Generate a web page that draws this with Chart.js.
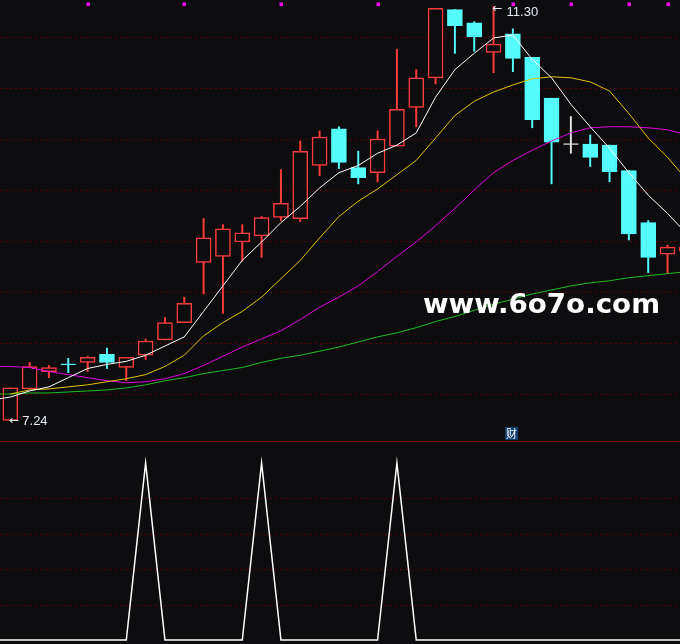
<!DOCTYPE html>
<html>
<head>
<meta charset="utf-8">
<script src="https://cdn.jsdelivr.net/npm/chart.js@4.4.1/dist/chart.umd.min.js"></script>
<style>
  html, body { margin: 0; padding: 0; background: #0d0d10; }
  #wrap { position: relative; width: 680px; height: 644px; overflow: hidden; background: #0d0d10; }
  #top { position: absolute; left: 0; top: 0; }
  #sep { position: absolute; left: 0; top: 441px; width: 680px; height: 1px; background: #7a0a0a; }
  #bottom { position: absolute; left: 0; top: 442px; }
</style>
</head>
<body>
<div id="wrap">
  <canvas id="top" width="680" height="441"></canvas>
  <div id="sep"></div>
  <canvas id="bottom" width="680" height="202"></canvas>
</div>
<script>
// daily candles, day 0 = leftmost (day 35 is cut off at the right edge)
const opens  = [7.24, 7.55, 7.72, 7.79, 7.81, 7.89, 7.76, 7.88, 8.03, 8.20, 8.79, 8.85, 8.99, 9.05, 9.23, 9.22, 9.74, 10.10, 9.72, 9.67, 9.93, 10.31, 10.60, 11.27, 11.14, 10.85, 11.03, 10.80, 10.40, 9.95, 9.95, 9.94, 9.69, 9.18, 8.87, 8.90];
const highs  = [7.56, 7.81, 7.78, 7.85, 7.87, 7.95, 7.86, 8.04, 8.25, 8.45, 9.22, 9.16, 9.16, 9.24, 9.70, 9.98, 10.08, 10.12, 9.88, 10.08, 10.88, 10.68, 11.28, 11.27, 11.15, 11.30, 11.08, 10.80, 10.40, 10.22, 10.04, 9.94, 9.69, 9.20, 8.96, 8.96];
const lows   = [7.24, 7.55, 7.66, 7.71, 7.72, 7.75, 7.63, 7.84, 8.03, 8.20, 8.48, 8.29, 8.80, 8.84, 9.20, 9.19, 9.64, 9.71, 9.56, 9.58, 9.93, 10.12, 10.54, 10.84, 10.86, 10.65, 10.66, 10.11, 9.56, 9.86, 9.73, 9.58, 9.01, 8.69, 8.68, 8.85];
const closes = [7.56, 7.77, 7.76, 7.79, 7.86, 7.81, 7.86, 8.02, 8.20, 8.39, 9.03, 9.12, 9.08, 9.23, 9.37, 9.88, 10.02, 9.77, 9.62, 10.00, 10.29, 10.60, 11.28, 11.11, 11.00, 10.93, 10.79, 10.19, 9.97, 9.95, 9.82, 9.68, 9.07, 8.84, 8.94, 8.94];

// moving averages, read from day -1 (just left of the frame) to day 35
const ma5  = [7.44, 7.47, 7.53, 7.57, 7.66, 7.75, 7.79, 7.82, 7.88, 7.97, 8.06, 8.31, 8.56, 8.81, 8.99, 9.18, 9.34, 9.52, 9.67, 9.74, 9.86, 9.94, 10.06, 10.41, 10.68, 10.84, 10.99, 11.02, 10.78, 10.60, 10.34, 10.12, 9.91, 9.67, 9.45, 9.27, 9.07];
const ma10 = [null, 7.50, 7.54, 7.55, 7.57, 7.59, 7.62, 7.65, 7.69, 7.77, 7.88, 8.07, 8.20, 8.31, 8.45, 8.63, 8.81, 9.03, 9.24, 9.39, 9.51, 9.65, 9.79, 10.01, 10.23, 10.37, 10.46, 10.53, 10.59, 10.61, 10.60, 10.56, 10.47, 10.25, 10.01, 9.82, 9.60];
const ma20 = [7.77, 7.77, 7.76, 7.72, 7.69, 7.66, 7.63, 7.61, 7.62, 7.65, 7.70, 7.78, 7.87, 7.96, 8.04, 8.12, 8.23, 8.35, 8.45, 8.56, 8.70, 8.85, 8.99, 9.15, 9.32, 9.50, 9.67, 9.79, 9.89, 9.98, 10.06, 10.11, 10.12, 10.12, 10.11, 10.09, 10.04];
const ma60 = [7.50, 7.50, 7.51, 7.51, 7.52, 7.53, 7.54, 7.56, 7.59, 7.63, 7.66, 7.70, 7.73, 7.76, 7.81, 7.85, 7.88, 7.92, 7.96, 8.01, 8.06, 8.10, 8.15, 8.21, 8.26, 8.32, 8.38, 8.43, 8.48, 8.52, 8.56, 8.59, 8.61, 8.64, 8.66, 8.68, 8.70];

// lower panel signal, same days as the averages
const signal = [0, 0, 0, 0, 0, 0, 0, 0, 1, 0, 0, 0, 0, 0, 1, 0, 0, 0, 0, 0, 0, 1, 0, 0, 0, 0, 0, 0, 0, 0, 0, 0, 0, 0, 0, 0, 0];

const markerDays = [4, 9, 14, 19, 26, 29, 32, 34];
const priceGrid = [7.5, 8.0, 8.5, 9.0, 9.5, 10.0, 10.5, 11.0];
const signalGrid = [0.2, 0.4, 0.6, 0.8];
const lowLabel = { day: 0, text: '7.24' };
const highLabel = { day: 25, text: '11.30' };

const BG = '#0d0d10';
const RED = '#ff3c3c';
const CYAN = '#54fcfc';
const X_MIN = -0.533, X_MAX = 34.645;

const days = opens.map((_, i) => i);
const lineDays = ma5.map((_, k) => k - 1);
const isDoji = i => opens[i] === closes[i];
const dojiColor = i => (i === 29 ? '#e4e4e4' : CYAN);
const candleColor = i => (isDoji(i) ? dojiColor(i) : closes[i] > opens[i] ? RED : CYAN);

const gridPlugin = {
  id: 'dashGrid',
  beforeDatasetsDraw(chart, args, opts) {
    const { ctx, chartArea, scales: { y } } = chart;
    ctx.save();
    ctx.strokeStyle = '#5c0000';
    ctx.lineWidth = 1;
    ctx.setLineDash([2, 3]);
    opts.levels.forEach(v => {
      const py = Math.round(y.getPixelForValue(v)) + 0.5;
      ctx.beginPath();
      ctx.moveTo(chartArea.left, py);
      ctx.lineTo(chartArea.right, py);
      ctx.stroke();
    });
    ctx.restore();
  }
};

const notePlugin = {
  id: 'notes',
  afterDatasetsDraw(chart) {
    const { ctx, scales: { x, y } } = chart;
    ctx.save();

    // magenta day markers along the top
    ctx.fillStyle = '#ff00ff';
    markerDays.forEach(d => {
      ctx.fillRect(Math.round(x.getPixelForValue(d)) - 1.5, 2.5, 3.5, 3.5);
    });

    ctx.textBaseline = 'middle';
    ctx.fillStyle = '#e4eaf6';
    const arrowFont = '12px "DejaVu Sans"';
    const numFont = '13px "Liberation Sans", Arial, sans-serif';
    // lowest price
    let px = x.getPixelForValue(lowLabel.day);
    let py = y.getPixelForValue(lows[lowLabel.day]);
    ctx.font = arrowFont;
    ctx.fillText('←', px - 1, py);
    ctx.font = numFont;
    ctx.fillText(lowLabel.text, px + 12, py + 1);
    // highest price
    px = x.getPixelForValue(highLabel.day);
    py = y.getPixelForValue(highs[highLabel.day]);
    ctx.font = arrowFont;
    ctx.fillText('←', px - 1, py + 2);
    ctx.font = numFont;
    ctx.fillText(highLabel.text, px + 13, py + 6);

    // 财 tag
    const tx = Math.round(x.getPixelForValue(26)) - 8;
    ctx.fillStyle = '#0f3d6e';
    ctx.fillRect(tx, 427, 13, 13);
    ctx.fillStyle = '#ffffff';
    ctx.font = '11px "Noto Sans CJK SC"';
    ctx.textAlign = 'center';
    ctx.fillText('财', tx + 6.5, 434);
    ctx.restore();
  },
  afterDraw(chart) {
    const { ctx } = chart;
    const text = 'www.6o7o.com';
    ctx.save();
    ctx.font = 'bold 27px "DejaVu Sans"';
    const w = ctx.measureText(text).width;
    ctx.translate(423, 313);
    ctx.scale(237 / w, 1);
    ctx.fillStyle = '#ffffff';
    ctx.textBaseline = 'alphabetic';
    ctx.fillText(text, 0, 0);
    ctx.restore();
  }
};

const maLine = (arr, color, order) => ({
  type: 'line',
  data: arr.map((v, k) => ({ x: lineDays[k], y: v })),
  borderColor: color,
  borderWidth: 1,
  pointRadius: 0,
  tension: 0,
  order
});

new Chart(document.getElementById('top'), {
  type: 'bar',
  data: {
    datasets: [
      maLine(ma5, '#ffffff', 1),
      maLine(ma10, '#e2c400', 2),
      maLine(ma20, '#e000e0', 3),
      maLine(ma60, '#1fbf1f', 4),
      {
        type: 'line',
        showLine: false,
        data: days.filter(isDoji).map(i => ({ x: i, y: opens[i] })),
        pointStyle: 'line',
        pointRadius: 7.5,
        pointBorderWidth: 1.2,
        pointBorderColor: c => dojiColor(c.raw.x),
        order: 5
      },
      {
        type: 'bar',
        grouped: false,
        barThickness: 15,
        data: days.filter(i => !isDoji(i)).map(i => ({ x: i, y: [opens[i], closes[i]] })),
        backgroundColor: c => (closes[c.raw.x] > opens[c.raw.x] ? BG : CYAN),
        borderColor: c => candleColor(c.raw.x),
        borderWidth: 1.5,
        borderSkipped: false,
        order: 6
      },
      {
        type: 'bar',
        grouped: false,
        barThickness: 1.3,
        data: days.map(i => ({ x: i, y: [lows[i], highs[i]] })),
        backgroundColor: c => candleColor(c.raw.x),
        borderWidth: 0,
        order: 7
      }
    ]
  },
  options: {
    responsive: false,
    animation: false,
    layout: { padding: 0, autoPadding: false },
    scales: {
      x: { type: 'linear', display: false, min: X_MIN, max: X_MAX, offset: false },
      y: { type: 'linear', display: false, min: 7.0392, max: 11.3627 }
    },
    plugins: {
      legend: { display: false },
      tooltip: { enabled: false },
      dashGrid: { levels: priceGrid }
    }
  },
  plugins: [gridPlugin, notePlugin]
});

new Chart(document.getElementById('bottom'), {
  type: 'line',
  data: {
    datasets: [{
      data: signal.map((v, k) => ({ x: lineDays[k], y: v })),
      borderColor: '#ffffff',
      borderWidth: 1.5,
      pointRadius: 0,
      tension: 0
    }]
  },
  options: {
    responsive: false,
    animation: false,
    layout: { padding: 0, autoPadding: false },
    scales: {
      x: { type: 'linear', display: false, min: X_MIN, max: X_MAX },
      y: { type: 'linear', display: false, min: -0.0226, max: 1.1186 }
    },
    plugins: {
      legend: { display: false },
      tooltip: { enabled: false },
      dashGrid: { levels: signalGrid }
    }
  },
  plugins: [gridPlugin]
});
</script>
</body>
</html>
